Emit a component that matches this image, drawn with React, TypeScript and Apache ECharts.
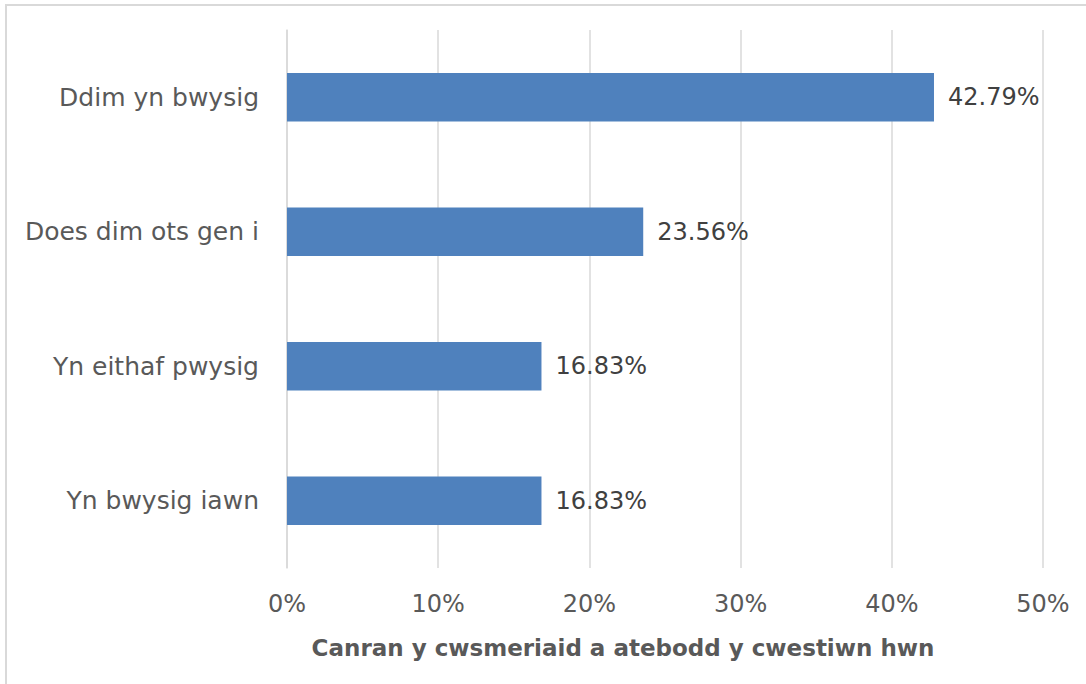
import React, { useEffect, useRef } from "react";
import * as echarts from "echarts";

const categories = ["Yn bwysig iawn", "Yn eithaf pwysig", "Does dim ots gen i", "Ddim yn bwysig"];
const values = [16.83, 16.83, 23.56, 42.79];
const xTicks = [0, 10, 20, 30, 40, 50];
const axisTitle = "Canran y cwsmeriaid a atebodd y cwestiwn hwn";

export default function App() {
  const ref = useRef<HTMLDivElement>(null);
  useEffect(() => {
    const chart = echarts.init(ref.current!, null, { renderer: "svg" });
    const font = "'DejaVu Sans', 'Open Sans', sans-serif";
    chart.setOption({
      animation: false,
      backgroundColor: "#ffffff",
      graphic: [
        {
          type: "rect",
          shape: { x: 6, y: 5, width: 1200, height: 800 },
          style: { fill: "none", stroke: "#d9d9d9", lineWidth: 2 },
          silent: true,
        },
      ],
      grid: { left: 287, right: 43, top: 30, bottom: 116, containLabel: false },
      xAxis: {
        type: "value",
        min: xTicks[0],
        max: xTicks[xTicks.length - 1],
        interval: 10,
        axisLine: { show: false },
        axisTick: { show: false },
        splitLine: { show: true, lineStyle: { color: "#d9d9d9", width: 1.5 } },
        axisLabel: {
          formatter: (v: number) => v + "%",
          color: "#595959",
          fontSize: 24,
          fontFamily: font,
          margin: 24,
        },
        name: axisTitle,
        nameLocation: "middle",
        nameGap: 68,
        nameTextStyle: {
          color: "#595959",
          fontSize: 23,
          fontWeight: "bold",
          fontFamily: font,
          padding: [0, 84, 0, 0],
        },
      },
      yAxis: {
        type: "category",
        data: categories,
        axisLine: { show: true, lineStyle: { color: "#d9d9d9", width: 1.5 } },
        axisTick: { show: false },
        axisLabel: {
          color: "#595959",
          fontSize: 25,
          fontFamily: font,
          margin: 28,
        },
      },
      series: [
        {
          type: "bar",
          data: values,
          barCategoryGap: "64%",
          itemStyle: { color: "#4f81bd" },
          label: {
            show: true,
            position: "right",
            distance: 14,
            formatter: (p: any) => p.value.toFixed(2) + "%",
            color: "#404040",
            fontSize: 24,
            fontFamily: font,
          },
        },
      ],
    });
    return () => chart.dispose();
  }, []);
  return (
    <div
      ref={ref}
      style={{ position: "fixed", left: 0, top: 0, width: 1086, height: 684 }}
    />
  );
}
